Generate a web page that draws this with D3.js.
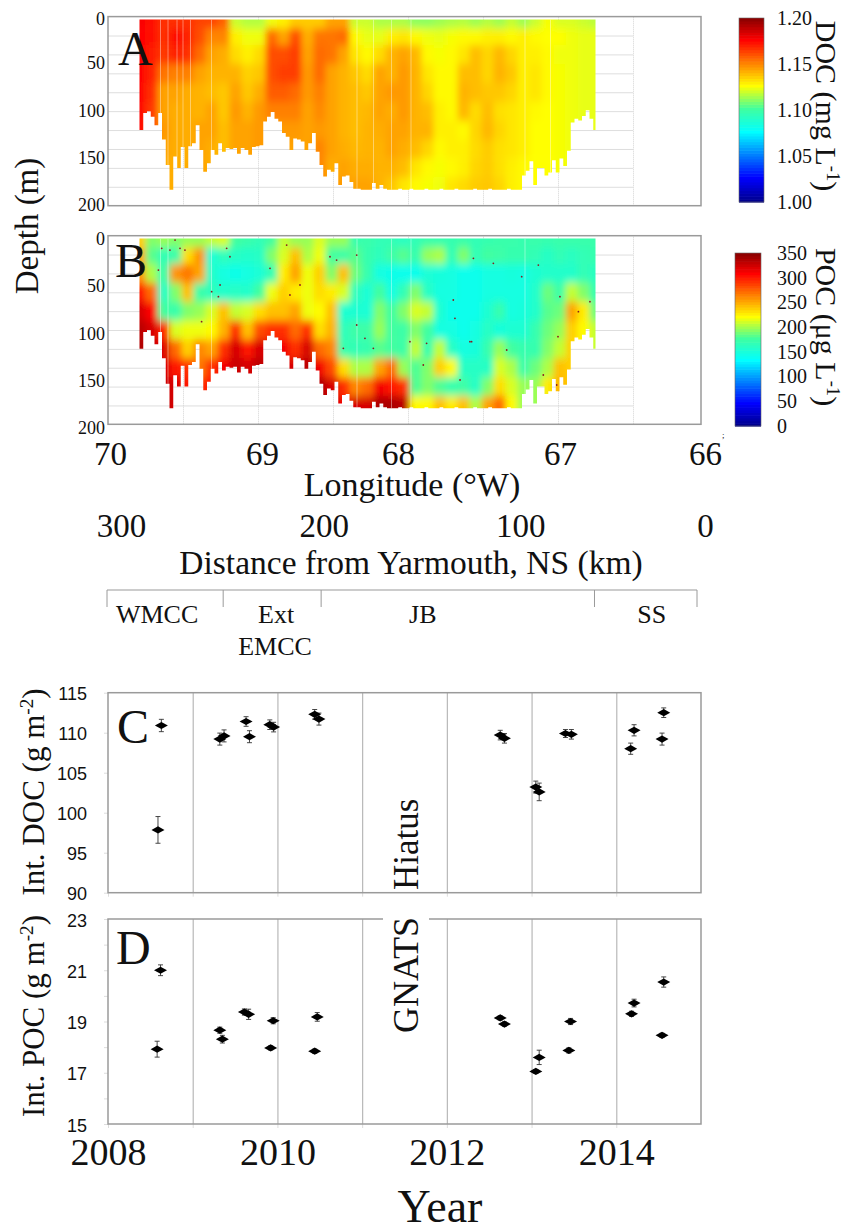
<!DOCTYPE html>
<html>
<head>
<meta charset="utf-8">
<script src="https://cdn.jsdelivr.net/npm/d3@7"></script>
<style>
  body { margin: 0; background: #fff; }
  svg { display: block; }
  text { fill: #111; }
  .serif text, text.serif { font-family: "Liberation Serif", serif; }
  .sans text, text.sans { font-family: "Liberation Sans", sans-serif; }
</style>
</head>
<body>
<svg id="chart" width="851" height="1232"></svg>
<script>
// ---- section data: depths and longitudes of the read-off grid ----
const gridDepths = [5, 20, 40, 60, 80, 100, 120, 140, 160, 180];
const gridLons = [69.79, 69.71, 69.63, 69.55, 69.47, 69.39, 69.31, 69.23, 69.15, 69.07, 68.99, 68.91, 68.83,
  68.75, 68.67, 68.59, 68.51, 68.43, 68.35, 68.27, 68.19, 68.11, 68.03, 67.95, 67.87, 67.79, 67.71, 67.63,
  67.55, 67.47, 67.39, 67.31, 67.23, 67.15, 67.07, 66.99, 66.91, 66.83, 66.75];

// DOC (mg/L), one row per longitude, one entry per gridDepths
const docGrid = [
  [1.176, 1.174, 1.174, 1.174, 1.174, 1.174, 1.174, 1.174, 1.174, 1.174],
  [1.172, 1.172, 1.170, 1.168, 1.166, 1.164, 1.164, 1.164, 1.164, 1.164],
  [1.166, 1.166, 1.164, 1.152, 1.143, 1.143, 1.145, 1.143, 1.141, 1.141],
  [1.166, 1.172, 1.168, 1.150, 1.143, 1.141, 1.141, 1.141, 1.141, 1.141],
  [1.166, 1.168, 1.166, 1.150, 1.141, 1.141, 1.141, 1.141, 1.141, 1.141],
  [1.162, 1.160, 1.154, 1.143, 1.140, 1.140, 1.143, 1.143, 1.143, 1.143],
  [1.162, 1.149, 1.143, 1.140, 1.138, 1.143, 1.143, 1.141, 1.141, 1.141],
  [1.156, 1.149, 1.141, 1.140, 1.136, 1.136, 1.138, 1.138, 1.138, 1.138],
  [1.118, 1.128, 1.132, 1.140, 1.143, 1.145, 1.143, 1.143, 1.143, 1.143],
  [1.115, 1.123, 1.128, 1.134, 1.136, 1.140, 1.143, 1.143, 1.143, 1.143],
  [1.115, 1.123, 1.132, 1.136, 1.141, 1.145, 1.145, 1.145, 1.145, 1.145],
  [1.123, 1.154, 1.160, 1.160, 1.157, 1.150, 1.143, 1.143, 1.143, 1.143],
  [1.128, 1.143, 1.160, 1.163, 1.157, 1.150, 1.145, 1.143, 1.143, 1.143],
  [1.135, 1.160, 1.163, 1.163, 1.154, 1.150, 1.145, 1.143, 1.143, 1.143],
  [1.135, 1.141, 1.143, 1.145, 1.145, 1.143, 1.143, 1.143, 1.143, 1.143],
  [1.135, 1.152, 1.154, 1.154, 1.150, 1.148, 1.145, 1.149, 1.149, 1.149],
  [1.143, 1.152, 1.152, 1.143, 1.143, 1.143, 1.143, 1.143, 1.141, 1.143],
  [1.143, 1.154, 1.143, 1.140, 1.140, 1.140, 1.140, 1.141, 1.143, 1.145],
  [1.118, 1.126, 1.130, 1.136, 1.138, 1.138, 1.138, 1.139, 1.141, 1.143],
  [1.118, 1.122, 1.126, 1.132, 1.136, 1.139, 1.140, 1.140, 1.141, 1.143],
  [1.114, 1.122, 1.132, 1.143, 1.143, 1.143, 1.141, 1.140, 1.140, 1.140],
  [1.114, 1.128, 1.140, 1.140, 1.145, 1.141, 1.143, 1.143, 1.140, 1.136],
  [1.114, 1.130, 1.143, 1.145, 1.145, 1.145, 1.143, 1.141, 1.138, 1.130],
  [1.110, 1.126, 1.139, 1.140, 1.140, 1.140, 1.140, 1.138, 1.130, 1.126],
  [1.110, 1.123, 1.126, 1.130, 1.133, 1.138, 1.140, 1.133, 1.126, 1.124],
  [1.112, 1.122, 1.124, 1.126, 1.126, 1.128, 1.128, 1.126, 1.124, 1.123],
  [1.114, 1.124, 1.126, 1.126, 1.126, 1.126, 1.128, 1.128, 1.126, 1.130],
  [1.115, 1.126, 1.130, 1.138, 1.140, 1.139, 1.126, 1.128, 1.128, 1.132],
  [1.112, 1.126, 1.138, 1.138, 1.138, 1.132, 1.133, 1.132, 1.133, 1.135],
  [1.115, 1.128, 1.133, 1.133, 1.136, 1.138, 1.139, 1.135, 1.135, 1.136],
  [1.112, 1.128, 1.139, 1.140, 1.136, 1.131, 1.133, 1.131, 1.131, 1.133],
  [1.117, 1.126, 1.133, 1.136, 1.133, 1.130, 1.130, 1.130, 1.128, 1.128],
  [1.112, 1.128, 1.128, 1.128, 1.128, 1.128, 1.128, 1.128, 1.126, 1.126],
  [1.118, 1.126, 1.128, 1.130, 1.130, 1.126, 1.125, 1.125, 1.125, 1.125],
  [1.124, 1.125, 1.126, 1.126, 1.126, 1.125, 1.125, 1.125, 1.125, 1.125],
  [1.120, 1.125, 1.123, 1.124, 1.124, 1.124, 1.124, 1.124, 1.124, 1.124],
  [1.120, 1.123, 1.123, 1.123, 1.123, 1.123, 1.123, 1.123, 1.123, 1.123],
  [1.118, 1.122, 1.122, 1.122, 1.122, 1.122, 1.122, 1.122, 1.122, 1.122],
  [1.116, 1.122, 1.122, 1.122, 1.122, 1.122, 1.122, 1.122, 1.122, 1.122]
];

// POC (ug/L), same layout
const pocGrid = [
  [235, 250, 255, 300, 320, 330, 335, 335, 335, 335],
  [190, 180, 200, 270, 305, 320, 325, 325, 325, 325],
  [195, 165, 170, 158, 175, 295, 318, 320, 325, 330],
  [190, 170, 255, 190, 170, 210, 270, 300, 320, 320],
  [195, 230, 265, 240, 190, 215, 235, 290, 300, 300],
  [195, 255, 250, 170, 195, 215, 260, 265, 290, 290],
  [205, 150, 155, 162, 210, 220, 250, 290, 300, 300],
  [210, 162, 145, 155, 240, 245, 290, 310, 310, 310],
  [175, 158, 142, 158, 205, 290, 320, 325, 325, 325],
  [170, 155, 145, 155, 210, 240, 300, 320, 320, 320],
  [165, 158, 150, 175, 230, 280, 320, 330, 330, 330],
  [175, 190, 165, 215, 240, 290, 315, 320, 320, 320],
  [205, 210, 225, 235, 240, 290, 310, 320, 320, 320],
  [195, 240, 250, 225, 250, 270, 290, 320, 320, 320],
  [195, 200, 215, 215, 215, 290, 320, 330, 330, 330],
  [210, 215, 235, 230, 220, 230, 270, 310, 335, 335],
  [195, 175, 190, 225, 240, 245, 260, 280, 320, 330],
  [195, 172, 240, 210, 152, 162, 168, 230, 290, 310],
  [168, 180, 185, 162, 152, 172, 165, 200, 260, 320],
  [170, 168, 168, 150, 150, 172, 168, 200, 270, 320],
  [165, 162, 145, 175, 190, 195, 180, 250, 310, 335],
  [165, 172, 142, 145, 175, 175, 175, 270, 300, 335],
  [160, 180, 140, 165, 190, 172, 172, 195, 290, 330],
  [165, 168, 140, 190, 210, 190, 205, 178, 178, 220],
  [170, 195, 150, 158, 205, 175, 168, 190, 190, 220],
  [168, 200, 148, 145, 152, 145, 205, 235, 178, 240],
  [168, 165, 145, 145, 140, 145, 158, 220, 168, 225],
  [170, 190, 140, 140, 140, 140, 145, 158, 172, 240],
  [165, 165, 140, 140, 140, 145, 148, 158, 158, 200],
  [168, 175, 145, 145, 152, 158, 168, 158, 190, 250],
  [170, 172, 145, 145, 168, 148, 195, 210, 230, 270],
  [170, 168, 148, 145, 145, 152, 175, 200, 210, 220],
  [168, 168, 145, 145, 148, 152, 168, 172, 195, 195],
  [170, 165, 152, 155, 155, 168, 168, 185, 195, 195],
  [168, 158, 155, 185, 180, 185, 190, 200, 225, 225],
  [170, 165, 155, 172, 185, 195, 205, 240, 245, 245],
  [170, 160, 155, 205, 250, 235, 235, 235, 235, 235],
  [170, 165, 165, 190, 225, 220, 220, 220, 220, 220],
  [170, 168, 160, 168, 185, 205, 205, 205, 205, 205]
];

// deepest sample of each glider column, 0.025 deg apart starting at bottomStartLon
const bottomStartLon = 69.79;
const bottomStepLon = 0.025;
const bottomDepth = [120, 102, 100, 106, 115, 102, 130, 157, 183, 148, 160, 138, 160, 137, 134, 115, 141, 164, 155, 141,
  146, 134, 143, 139, 140, 139, 145, 139, 141, 146, 138, 137, 136, 111, 106, 101, 108, 111, 123, 127,
  141, 129, 130, 132, 141, 134, 123, 143, 157, 169, 162, 164, 155, 178, 169, 168, 175, 182, 182, 183,
  183, 183, 176, 182, 178, 182, 183, 183, 183, 182, 183, 183, 182, 183, 183, 183, 182, 183, 183, 183,
  182, 183, 183, 183, 182, 183, 183, 183, 183, 182, 183, 183, 183, 182, 183, 183, 183, 183, 182, 183,
  183, 183, 168, 163, 153, 178, 160, 160, 168, 165, 152, 165, 150, 158, 142, 112, 108, 110, 105, 99,
  108, 120, 118];

// pale vertical streaks where the section has gaps
const gapLonsA = [69.65, 69.6, 69.54, 69.5, 69.45, 69.31, 68.34, 68.23, 68.11, 67.98, 67.22, 67.05];
const gapLonsB = [69.65, 69.6, 69.31, 68.34, 68.11, 67.98, 67.22];

// dark outliers scattered through the POC section
const speckLons = [69.553, 69.642, 69.52, 69.587, 69.487, 69.664, 69.253, 69.187, 69.209, 69.309, 69.264, 69.376,
  68.342, 68.287, 68.431, 68.92, 68.809, 68.787, 68.72, 68.52, 68.476, 68.342, 67.687, 67.698, 67.987, 67.898,
  67.876, 68.231, 67.587, 67.564, 67.131, 67.242, 67.431, 66.987, 66.864, 66.864, 67.0, 67.009, 67.098, 67.653,
  67.576, 66.787, 67.342];
const speckDepths = [4.6, 13.4, 13.4, 15.2, 15.2, 36.4, 52.3, 22.3, 13.4, 59.4, 64.7, 91.2,
  94.7, 108.8, 119.4, 34.6, 9.9, 62.9, 52.3, 22.3, 25.8, 20.5, 87.6, 68.2, 112.4, 137.1,
  114.1, 119.4, 112.4, 24, 31.1, 43.5, 29.3, 64.7, 80.6, 112.4, 107.1, 158.3, 147.7, 153,
  112.4, 70, 121.2];

// axis tick labels
const depthTicks = [0, 50, 100, 150, 200];
const depthGrid = d3.range(20, 200, 20);
const lonGrid = [69.5, 69, 68.5, 68, 67.5, 67, 66.5];
const lonTicks = [70, 69, 68, 67, 66];
const distTicks = [300, 200, 100, 0];
const docBarTicks = [1.00, 1.05, 1.10, 1.15, 1.20];
const pocBarTicks = [0, 50, 100, 150, 200, 250, 300, 350];

// oceanographic regions along the transect (edges in distance km)
const regionNames = ['WMCC', 'Ext', 'JB', 'SS'];
const regionEdges = [305, 254, 211, 91, 46];

// time series
const seriesYears = [2008.63, 2008.59, 2009.32, 2009.37, 2009.63, 2009.67, 2009.91, 2009.955, 2010.44, 2010.49,
  2012.63, 2012.68, 2013.40, 2013.47, 2013.05, 2013.09, 2014.21, 2014.17, 2014.56, 2014.54];
const intDoc = [110.9, 97.85, 109.2, 109.6, 111.4, 109.5, 111.0, 110.7, 112.3, 111.7,
  109.7, 109.3, 109.9, 109.8, 103.2, 102.6, 110.3, 108.0, 112.5, 109.2];
const intDocErr = [0.77, 1.67, 0.75, 0.75, 0.6, 0.75, 0.6, 0.6, 0.6, 0.75,
  0.6, 0.6, 0.5, 0.6, 0.75, 1.1, 0.7, 0.7, 0.6, 0.75];
const pocYears = [2008.62, 2008.58, 2009.32, 2009.35, 2009.61, 2009.66, 2009.95, 2009.92, 2010.47, 2010.44,
  2012.63, 2012.68, 2013.46, 2013.44, 2013.09, 2013.05, 2014.21, 2014.18, 2014.56, 2014.54];
const intPoc = [21.0, 17.92, 18.66, 18.31, 19.37, 19.28, 19.03, 17.97, 19.18, 17.84,
  19.14, 18.9, 19.0, 17.87, 17.6, 17.05, 19.72, 19.3, 20.54, 18.46];
const intPocErr = [0.21, 0.31, 0.12, 0.15, 0.12, 0.2, 0.12, 0.08, 0.17, 0.08,
  0.08, 0.08, 0.12, 0.1, 0.28, 0.07, 0.15, 0.1, 0.2, 0.08];

const yearTicks = [2008, 2010, 2012, 2014];
const yearGrid = [2009, 2010, 2011, 2012, 2013, 2014];
const docTicks = [90, 95, 100, 105, 110, 115];
const pocTicks = [15, 17, 19, 21, 23];
const pocMinorTicks = d3.range(15, 24);

// ---- layout ----
const svg = d3.select('#chart');
const defs = svg.append('defs');
const FRAME = '#9a9a9a';
const GRID = '#dedede';
const LEFT = 108;
const RIGHT = 701;

// jet colormap
const jet = d3.scaleLinear()
    .domain([0, 0.125, 0.375, 0.5, 0.625, 0.875, 1])
    .range(['#00008f', '#0000ff', '#00ffff', '#40ffa0', '#ffff00', '#ff0000', '#800000'])
    .clamp(true);

const lonScale = d3.scaleLinear().domain([70, 66]).range([LEFT, 708]);

function drawSection(name, top, bottom, grid, colorDomain, gapLons) {
  const y = d3.scaleLinear().domain([0, 200]).range([top, bottom]);
  const color = v => jet((v - colorDomain[0]) / (colorDomain[1] - colorDomain[0]));
  const g = svg.append('g').attr('class', 'serif');

  // grid lines stop at 66.5W, the frame carries on
  g.append('g')
      .attr('transform', `translate(${LEFT},0)`)
      .call(d3.axisRight(y).tickValues(depthGrid).tickSize(lonScale(66.5) - LEFT).tickFormat(''))
      .call(a => a.select('.domain').remove())
      .selectAll('line').attr('stroke', GRID);
  g.append('g')
      .attr('transform', `translate(0,${bottom})`)
      .call(d3.axisTop(lonScale).tickValues(lonGrid).tickSize(bottom - top).tickFormat(''))
      .call(a => a.select('.domain').remove())
      .selectAll('line').attr('stroke', '#d4d4d4').attr('stroke-dasharray', '1 1');

  // section shape comes from the bottom profile
  const bottomLons = bottomDepth.map((d, i) => Math.max(bottomStartLon - bottomStepLon * i, 66.75));
  const shape = d3.area()
      .x((d, i) => lonScale(bottomLons[i]))
      .y0(y(3))
      .y1(d => y(d))
      .curve(d3.curveStepAfter);
  defs.append('clipPath').attr('id', 'clip' + name)
    .append('path').attr('d', shape(bottomDepth));
  const blur = defs.append('filter').attr('id', 'blur' + name)
      .attr('filterUnits', 'userSpaceOnUse')
      .attr('x', 60).attr('y', top - 60).attr('width', 700).attr('height', bottom - top + 120);
  blur.append('feGaussianBlur').attr('stdDeviation', '3.2 4.5');

  const section = g.append('g').attr('clip-path', `url(#clip${name})`);
  const cells = section.append('g').attr('filter', `url(#blur${name})`);
  const halfLon = 0.04;
  gridLons.forEach((lon, i) => {
    const xa = lonScale(lon + halfLon + (i === 0 ? 0.2 : 0));
    const xb = lonScale(lon - halfLon - (i === gridLons.length - 1 ? 0.2 : 0));
    gridDepths.forEach((d, j) => {
      const ya = y(j === 0 ? -30 : (gridDepths[j - 1] + d) / 2);
      const yb = y(j === gridDepths.length - 1 ? 230 : (d + gridDepths[j + 1]) / 2);
      cells.append('rect')
          .attr('x', xa).attr('y', ya)
          .attr('width', xb - xa + 0.5).attr('height', yb - ya + 0.5)
          .attr('fill', color(grid[i][j]));
    });
  });
  section.selectAll('line.gap').data(gapLons).join('line')
      .attr('class', 'gap')
      .attr('x1', d => lonScale(d)).attr('x2', d => lonScale(d))
      .attr('y1', y(3)).attr('y2', y(190))
      .attr('stroke', '#fff').attr('stroke-opacity', 0.4).attr('stroke-width', 1);

  // frame
  g.append('rect').attr('x', LEFT).attr('y', top)
      .attr('width', RIGHT - LEFT).attr('height', bottom - top)
      .attr('fill', 'none').attr('stroke', FRAME).attr('stroke-width', 1.5);

  // depth labels
  g.append('g')
      .attr('transform', `translate(${LEFT},0)`)
      .call(d3.axisLeft(y).tickValues(depthTicks).tickSize(0).tickPadding(3))
      .call(a => a.select('.domain').remove())
      .selectAll('text')
      .attr('font-family', '"Liberation Serif", serif')
      .attr('font-size', 18)
      .attr('dy', (d, i) => (name === 'B' ? 9 : (i === 0 ? 8 : 5)));
  return { y, section };
}

const sectionA = drawSection('A', 16.6, 205.7, docGrid, [1.0, 1.2], gapLonsA);
const sectionB = drawSection('B', 235.7, 424.3, pocGrid, [0, 350], gapLonsB);

sectionB.section.append('g').selectAll('circle')
    .data(speckLons)
    .join('circle')
    .attr('cx', d => lonScale(d))
    .attr('cy', (d, i) => sectionB.y(speckDepths[i]))
    .attr('r', 0.9)
    .attr('fill', '#8a1a20');

function panelLetter(t, x, y) {
  svg.append('text').attr('class', 'serif')
      .attr('x', x).attr('y', y)
      .attr('font-size', 48)
      .text(t);
}
panelLetter('A', 118, 65);
panelLetter('B', 115, 277);
panelLetter('C', 117, 743);
panelLetter('D', 116, 964);

// rotated title with a superscript exponent
function rotatedTitle(x, y, angle, size, before, sup, after) {
  const t = svg.append('text').attr('class', 'serif')
      .attr('transform', `translate(${x},${y}) rotate(${angle})`)
      .attr('text-anchor', 'middle')
      .attr('font-size', size);
  t.append('tspan').text(before);
  if (sup) {
    t.append('tspan').attr('dy', -size * 0.35).attr('font-size', size * 0.62).text(sup);
    t.append('tspan').attr('dy', size * 0.35).text(after);
  }
}

function colorBar(x0, x1, yTop, yBottom, ticks, domain, labelX, fontSize, fmt) {
  const y = d3.scaleLinear().domain(domain).range([yBottom, yTop]);
  const levels = d3.range(0, 1, 1 / 64);
  const t = d3.scaleLinear().domain([0, 1]).range(domain);
  const h = (yBottom - yTop) / levels.length;
  const g = svg.append('g');
  g.selectAll('rect').data(levels).join('rect')
      .attr('x', x0).attr('width', x1 - x0)
      .attr('y', d => y(t(d)) - h)
      .attr('height', h + 0.6)
      .attr('fill', d => jet(d));
  g.append('rect').attr('x', x0).attr('y', yTop)
      .attr('width', x1 - x0).attr('height', yBottom - yTop)
      .attr('fill', 'none').attr('stroke', '#666').attr('stroke-width', 0.6);
  svg.append('g').attr('class', 'serif')
      .attr('transform', `translate(${x1},0)`)
      .call(d3.axisRight(y).tickValues(ticks).tickSize(0).tickPadding(labelX - x1).tickFormat(fmt))
      .call(a => a.select('.domain').remove())
      .selectAll('text')
      .attr('font-family', '"Liberation Serif", serif')
      .attr('font-size', fontSize);
}

colorBar(739, 764, 18, 202, docBarTicks, [1.0, 1.2], 777, 20, d3.format('.2f'));
colorBar(735, 761, 253, 426, pocBarTicks, [0, 350], 777, 20, d3.format('d'));
rotatedTitle(816, 106, 90, 30, 'DOC (mg L', '-1', ')');
rotatedTitle(816, 327, 90, 30, 'POC (\u03bcg L', '-1', ')');
rotatedTitle(38, 226, -90, 33, 'Depth (m)');

// longitude and distance labels, hand placed in the original figure
const lonNudge = [2, 4, -10, 2, -3];
const distScale = d3.scaleLinear().domain([300, 0]).range([121, 705]);
const distNudge = [0, 8, 10, 0];

svg.append('g').attr('class', 'serif')
    .attr('transform', 'translate(0,438)')
    .call(d3.axisBottom(lonScale).tickValues(lonTicks).tickSize(0).tickPadding(4).tickFormat(d3.format('d')))
    .call(a => a.select('.domain').remove())
    .selectAll('text')
    .attr('font-family', '"Liberation Serif", serif')
    .attr('font-size', 33)
    .attr('dx', (d, i) => lonNudge[i]);

svg.append('g').attr('class', 'serif')
    .attr('transform', 'translate(0,510)')
    .call(d3.axisBottom(distScale).tickValues(distTicks).tickSize(0).tickPadding(4).tickFormat(d3.format('d')))
    .call(a => a.select('.domain').remove())
    .selectAll('text')
    .attr('font-family', '"Liberation Serif", serif')
    .attr('font-size', 33)
    .attr('dx', (d, i) => distNudge[i]);

svg.append('text').attr('class', 'serif').attr('x', 412).attr('y', 496)
    .attr('text-anchor', 'middle').attr('font-size', 34).text('Longitude (\u00b0W)');
svg.append('text').attr('class', 'serif').attr('x', 411).attr('y', 574)
    .attr('text-anchor', 'middle').attr('font-size', 33.5).text('Distance from Yarmouth, NS (km)');
svg.append('text').attr('class', 'serif').attr('x', 722).attr('y', 438)
    .attr('font-size', 9).text(';');

// region brackets
const regionScale = d3.scaleLinear().domain([305, 46]).range([107, 697]);
const regions = svg.append('g').attr('class', 'serif');
regions.append('line')
    .attr('x1', regionScale(regionEdges[0])).attr('x2', regionScale(regionEdges[regionEdges.length - 1]))
    .attr('y1', 590).attr('y2', 590)
    .attr('stroke', FRAME).attr('stroke-width', 1.2);
regions.selectAll('line.edge').data(regionEdges).join('line')
    .attr('class', 'edge')
    .attr('x1', d => regionScale(d)).attr('x2', d => regionScale(d))
    .attr('y1', 590).attr('y2', 607)
    .attr('stroke', FRAME).attr('stroke-width', 1);
regions.selectAll('text.region').data(regionNames).join('text')
    .attr('class', 'region')
    .attr('x', (d, i) => (regionScale(regionEdges[i]) + regionScale(regionEdges[i + 1])) / 2 + [-8, 4, -35, 6][i])
    .attr('y', 623)
    .attr('text-anchor', 'middle')
    .attr('font-size', 26)
    .text(d => d);
regions.append('text').attr('x', 275).attr('y', 655)
    .attr('text-anchor', 'middle').attr('font-size', 26).text('EMCC');

// ---- time series panels ----
const yearScale = d3.scaleLinear().domain([2008, 2015]).range([LEFT, RIGHT]);
const DIAMOND = 'M-6.5,0L0,-3.6L6.5,0L0,3.6Z';

function drawSeries(top, bottom, domain, years, values, errs, majorTicks, minorTicks) {
  const y = d3.scaleLinear().domain(domain).range([bottom, top]);
  const g = svg.append('g').attr('class', 'sans');

  g.append('g')
      .attr('transform', `translate(0,${bottom})`)
      .call(d3.axisTop(yearScale).tickValues(yearGrid).tickSize(bottom - top).tickFormat(''))
      .call(a => a.select('.domain').remove())
      .selectAll('line').attr('stroke', '#b8b8b8').attr('stroke-width', 1.2);
  g.append('g')
      .attr('transform', `translate(0,${bottom})`)
      .call(d3.axisBottom(yearScale).tickValues([2008].concat(yearGrid)).tickSize(4).tickFormat(''))
      .call(a => a.select('.domain').remove())
      .selectAll('line').attr('stroke', '#ddd');
  g.append('g')
      .attr('transform', `translate(${LEFT},0)`)
      .call(d3.axisLeft(y).tickValues(minorTicks).tickSize(4).tickFormat(''))
      .call(a => a.select('.domain').remove())
      .selectAll('line').attr('stroke', '#ddd');
  g.append('rect').attr('x', LEFT).attr('y', top)
      .attr('width', RIGHT - LEFT).attr('height', bottom - top)
      .attr('fill', 'none').attr('stroke', FRAME).attr('stroke-width', 1.5);

  const axisLabels = g.append('g')
      .attr('transform', `translate(${LEFT},0)`)
      .call(d3.axisLeft(y).tickValues(majorTicks).tickSize(0).tickPadding(21).tickFormat(d3.format('d')));
  axisLabels.select('.domain').remove();
  axisLabels.selectAll('text')
      .attr('font-family', '"Liberation Sans", sans-serif')
      .attr('font-size', 18)
      .attr('dy', '0.4em');

  const bars = g.append('g').attr('stroke', '#333').attr('stroke-width', 0.9);
  values.forEach((v, i) => {
    const cx = yearScale(years[i]);
    bars.append('line').attr('x1', cx).attr('x2', cx).attr('y1', y(v - errs[i])).attr('y2', y(v + errs[i]));
    bars.append('line').attr('x1', cx - 2.5).attr('x2', cx + 2.5).attr('y1', y(v - errs[i])).attr('y2', y(v - errs[i]));
    bars.append('line').attr('x1', cx - 2.5).attr('x2', cx + 2.5).attr('y1', y(v + errs[i])).attr('y2', y(v + errs[i]));
  });
  g.append('g').selectAll('path').data(values).join('path')
      .attr('d', DIAMOND)
      .attr('transform', (d, i) => `translate(${yearScale(years[i])},${y(d)})`)
      .attr('fill', '#000');
}

drawSeries(692.7, 892.7, [90, 115], seriesYears, intDoc, intDocErr, docTicks, docTicks);
drawSeries(919, 1124, [15, 23], pocYears, intPoc, intPocErr, pocTicks, pocMinorTicks);

// the vertical "Hiatus GNATS" note breaks through the frames
svg.append('rect').attr('x', 383).attr('y', 915).attr('width', 46).attr('height', 8).attr('fill', '#fff');
svg.append('text').attr('class', 'serif')
    .attr('transform', 'translate(418,890) rotate(-90)')
    .attr('font-size', 35).text('Hiatus');
svg.append('text').attr('class', 'serif')
    .attr('transform', 'translate(418,1033) rotate(-90)')
    .attr('font-size', 36).text('GNATS');

rotatedTitle(44, 792, -90, 31, 'Int. DOC (g m', '-2', ')');
rotatedTitle(44, 1016, -90, 31, 'Int. POC (g m', '-2', ')');

svg.append('g').attr('class', 'serif')
    .attr('transform', 'translate(0,1132)')
    .call(d3.axisBottom(yearScale).tickValues(yearTicks).tickSize(0).tickPadding(6).tickFormat(d3.format('d')))
    .call(a => a.select('.domain').remove())
    .selectAll('text')
    .attr('font-family', '"Liberation Serif", serif')
    .attr('font-size', 38);
svg.append('text').attr('class', 'serif').attr('x', 440).attr('y', 1222)
    .attr('text-anchor', 'middle').attr('font-size', 46).text('Year');
</script>
</body>
</html>
